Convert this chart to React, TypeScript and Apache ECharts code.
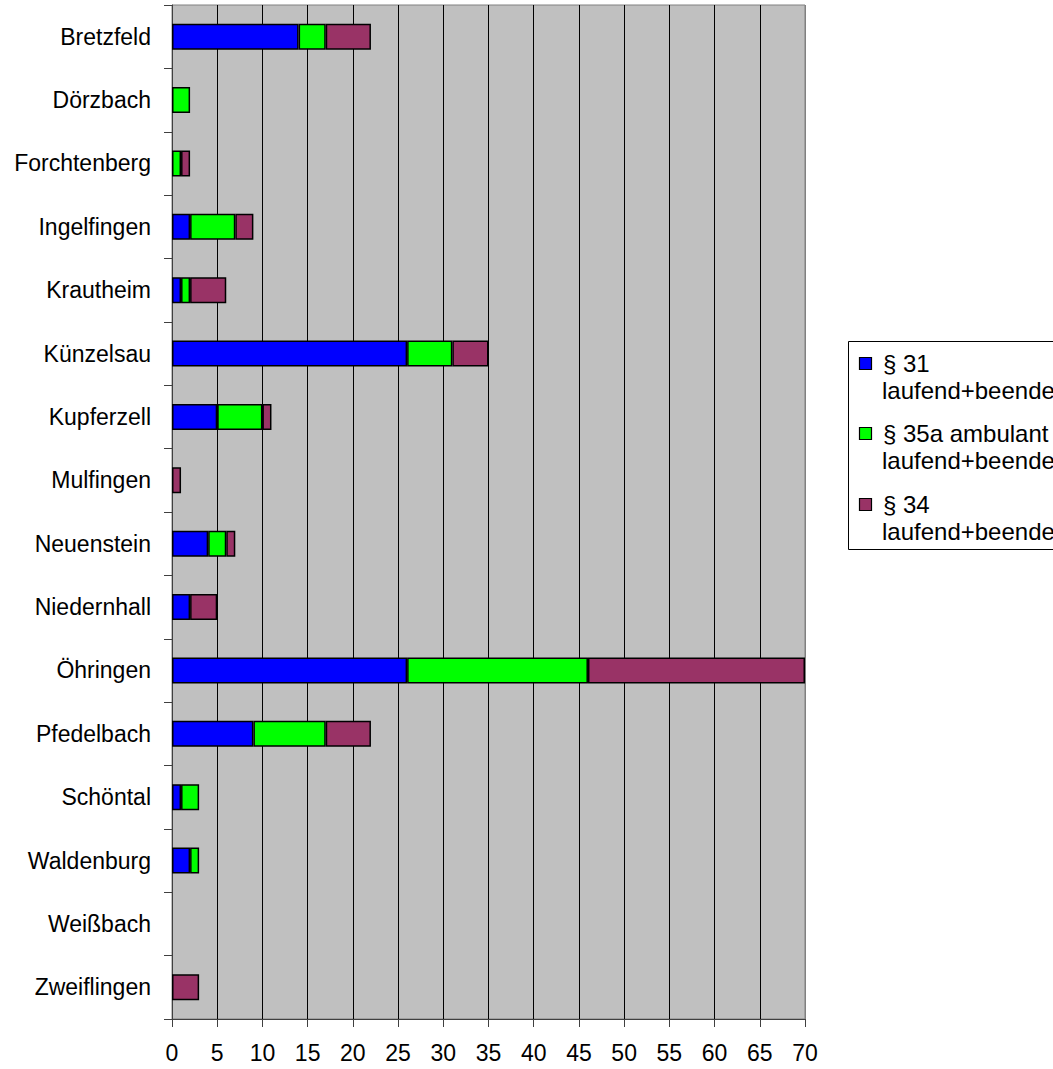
import React, { useEffect, useRef } from "react";
import * as echarts from "echarts";

const categories = [
  "Bretzfeld",
  "Dörzbach",
  "Forchtenberg",
  "Ingelfingen",
  "Krautheim",
  "Künzelsau",
  "Kupferzell",
  "Mulfingen",
  "Neuenstein",
  "Niedernhall",
  "Öhringen",
  "Pfedelbach",
  "Schöntal",
  "Waldenburg",
  "Weißbach",
  "Zweiflingen",
];

const s31 = [14, 0, 0, 2, 1, 26, 5, 0, 4, 2, 26, 9, 1, 2, 0, 0];
const s35a = [3, 2, 1, 5, 1, 5, 5, 0, 2, 0, 20, 8, 2, 1, 0, 0];
const s34 = [5, 0, 1, 2, 4, 4, 1, 1, 1, 3, 24, 5, 0, 0, 0, 3];

const seriesNames = [
  "§ 31 laufend+beendet",
  "§ 35a ambulant laufend+beendet",
  "§ 34 laufend+beendet",
];
const legendLine1 = ["§ 31", "§ 35a ambulant", "§ 34"];
const legendLine2 = ["laufend+beendet", "laufend+beendet", "laufend+beendet"];
const colors = ["#0000FF", "#00FF00", "#993366"];

const xTicks = [0, 70, 5]; // min, max, interval

const FONT = '"Liberation Sans", Arial, sans-serif';

export default function App() {
  const ref = useRef<HTMLDivElement>(null);

  useEffect(() => {
    document.body.style.margin = "0";
    if (!ref.current) return;
    const chart = echarts.init(ref.current, null, { renderer: "svg" });

    const seriesData = [s31, s35a, s34];
    const nSplit = (xTicks[1] - xTicks[0]) / xTicks[2] + 1;
    const splitColors: string[] = [];
    for (let i = 0; i < nSplit; i++) {
      splitColors.push(i === 0 || i === nSplit - 1 ? "#808080" : "#000000");
    }

    const legendGraphics: any[] = [
      {
        type: "rect",
        shape: { x: 848.5, y: 341.5, width: 260, height: 208 },
        style: { fill: "#ffffff", stroke: "#000000", lineWidth: 1 },
        z: 10,
      },
    ];
    for (let i = 0; i < 3; i++) {
      const cy = 363 + i * 70.5;
      legendGraphics.push({
        type: "rect",
        shape: { x: 859.5, y: Math.round(cy - 6.5) + 0.5, width: 12, height: 12 },
        style: { fill: colors[i], stroke: "#000000", lineWidth: 1.2 },
        z: 11,
      });
      legendGraphics.push({
        type: "text",
        x: 883,
        y: cy,
        style: {
          text: legendLine1[i],
          fontSize: 24,
          fontFamily: FONT,
          fill: "#000000",
          align: "left",
          verticalAlign: "middle",
        },
        z: 11,
      });
      legendGraphics.push({
        type: "text",
        x: 882,
        y: cy + 27,
        style: {
          text: legendLine2[i],
          fontSize: 24,
          fontFamily: FONT,
          fill: "#000000",
          align: "left",
          verticalAlign: "middle",
        },
        z: 11,
      });
    }

    chart.setOption({
      animation: false,
      backgroundColor: "#ffffff",
      textStyle: { fontFamily: FONT },
      grid: {
        left: 172,
        right: 248,
        top: 5,
        bottom: 50,
        show: true,
        backgroundColor: "#C0C0C0",
        borderColor: "#808080",
        borderWidth: 1,
        containLabel: false,
      },
      xAxis: {
        type: "value",
        min: xTicks[0],
        max: xTicks[1],
        interval: xTicks[2],
        position: "bottom",
        axisLine: { show: true, lineStyle: { color: "#404040", width: 1 } },
        axisTick: { show: true, length: 8, lineStyle: { color: "#404040" } },
        axisLabel: {
          fontSize: 23,
          fontFamily: FONT,
          color: "#000000",
          margin: 22,
        },
        splitLine: {
          show: true,
          lineStyle: { color: splitColors, width: 1 },
        },
      },
      yAxis: {
        type: "category",
        data: categories,
        inverse: true,
        boundaryGap: true,
        axisLine: { show: true, lineStyle: { color: "#404040", width: 1 } },
        axisTick: {
          show: true,
          length: 8,
          interval: 0,
          alignWithLabel: false,
          lineStyle: { color: "#404040" },
        },
        axisLabel: {
          fontSize: 23,
          fontFamily: FONT,
          color: "#000000",
          margin: 21,
          interval: 0,
        },
        splitLine: { show: false },
      },
      series: seriesData.map((arr, i) => ({
        name: seriesNames[i],
        type: "bar",
        stack: "total",
        barWidth: 26,
        data: arr.map((v) => (v === 0 ? "-" : v)),
        itemStyle: {
          color: colors[i],
          borderColor: "#000000",
          borderWidth: 1.5,
        },
      })),
      graphic: legendGraphics,
    });

    return () => {
      chart.dispose();
    };
  }, []);

  return <div ref={ref} style={{ width: 1053, height: 1069 }} />;
}
